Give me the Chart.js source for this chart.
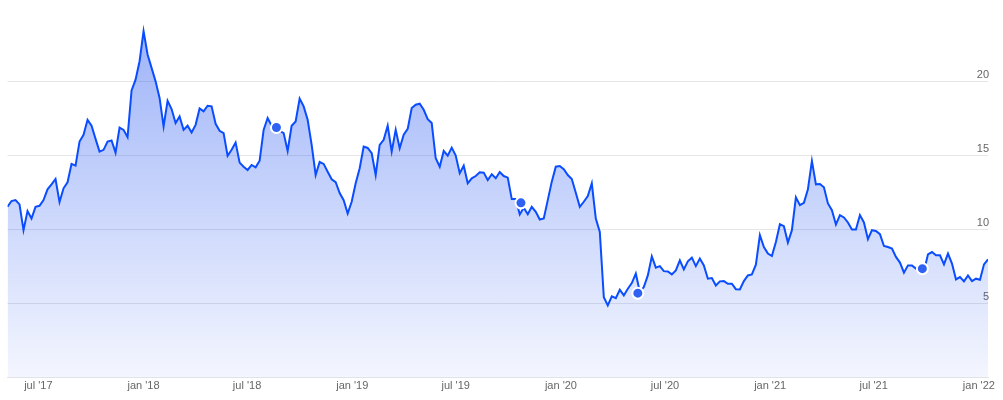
<!DOCTYPE html>
<html>
<head>
<meta charset="utf-8">
<title>Weekly chart</title>
<script src="https://cdn.jsdelivr.net/npm/chart.js@4.4.1/dist/chart.umd.min.js"></script>
<style>
  html, body { margin: 0; padding: 0; background: #ffffff; }
  #wrap { width: 1003px; height: 400px; }
</style>
</head>
<body>
<div id="wrap"><canvas id="priceChart" width="1003" height="400"></canvas></div>
<script>
// weekly series, first point in the week of 8 May 2017
const startDate = '2017-05-08';

const weeklyValues = [
  11.56, 11.95, 12.01, 11.72, 9.98, 11.27, 10.77, 11.56, 11.63, 12.01,
  12.74, 13.08, 13.44, 11.88, 12.81, 13.22, 14.46, 14.34, 15.97, 16.43,
  17.44, 17.04, 16.15, 15.29, 15.41, 15.97, 16.04, 15.22, 16.92, 16.76,
  16.27, 19.43, 20.16, 21.40, 23.44, 21.86, 20.95, 20.04, 18.92, 16.99,
  18.73, 18.17, 17.22, 17.67, 16.76, 17.04, 16.58, 17.10, 18.21, 18.01,
  18.39, 18.35, 17.17, 16.70, 16.54, 15.00, 15.41, 15.90, 14.55, 14.27,
  14.05, 14.39, 14.23, 14.68, 16.76, 17.56, 17.04, 16.90, 16.70, 16.54,
  15.34, 17.04, 17.33, 18.87, 18.35, 17.44, 15.75, 13.71, 14.59, 14.46,
  13.93, 13.42, 13.22, 12.49, 12.01, 11.11, 11.90, 13.15, 14.17, 15.63,
  15.54, 15.18, 13.71, 15.75, 16.09, 17.04, 15.29, 16.76, 15.52, 16.43,
  16.83, 18.24, 18.46, 18.53, 18.12, 17.49, 17.22, 14.84, 14.27, 15.34,
  15.02, 15.56, 15.02, 13.83, 14.34, 13.15, 13.49, 13.64, 13.89, 13.87,
  13.37, 13.76, 13.49, 13.91, 13.64, 13.53, 12.08, 12.08, 11.04, 11.50,
  11.06, 11.56, 11.22, 10.70, 10.77, 12.01, 13.26, 14.27, 14.32, 14.10,
  13.71, 13.44, 12.51, 11.56, 11.90, 12.29, 13.15, 10.77, 9.86, 5.45,
  4.89, 5.50, 5.38, 5.95, 5.57, 6.02, 6.40, 7.04, 5.80, 6.13,
  6.92, 8.21, 7.45, 7.55, 7.21, 7.19, 6.99, 7.26, 7.94, 7.33,
  7.87, 8.12, 7.55, 8.06, 7.60, 6.70, 6.74, 6.24, 6.52, 6.54,
  6.36, 6.36, 5.99, 5.97, 6.54, 6.92, 6.99, 7.65, 9.64, 8.84,
  8.40, 8.23, 9.18, 10.38, 10.25, 9.14, 9.98, 12.20, 11.67, 11.83,
  12.74, 14.66, 13.08, 13.10, 12.88, 11.79, 11.33, 10.36, 11.00, 10.84,
  10.50, 10.02, 10.02, 11.00, 10.50, 9.37, 9.98, 9.93, 9.71, 8.91,
  8.84, 8.74, 8.17, 7.79, 7.11, 7.60, 7.60, 7.38, 7.40, 7.20,
  8.35, 8.50, 8.28, 8.28, 7.67, 8.40, 7.72, 6.65, 6.81, 6.52,
  6.92, 6.54, 6.70, 6.63, 7.67, 8.01
];

// highlighted events (week index from start, value)
const eventWeeks = [67.2, 128.3, 157.5, 228.6];
const eventValues = [16.92, 11.83, 5.72, 7.38];

const tickDates = ['2017-07-01', '2018-01-01', '2018-07-01', '2019-01-01', '2019-07-01',
                   '2020-01-01', '2020-07-01', '2021-01-01', '2021-07-01', '2022-01-01'];
const tickLabels = ["jul '17", "jan '18", "jul '18", "jan '19", "jul '19",
                    "jan '20", "jul '20", "jan '21", "jul '21", "jan '22"];
const yTicks = [5, 10, 15, 20];

const WEEK_MS = 7 * 24 * 3600 * 1000;
function weekIndex(dateStr) {
    return (Date.parse(dateStr + 'T00:00:00Z') - Date.parse(startDate + 'T00:00:00Z')) / WEEK_MS;
}
const tickWeeks = tickDates.map(weekIndex);

Chart.defaults.font.family = 'Arial, "Liberation Sans", sans-serif';

const ctx = document.getElementById('priceChart').getContext('2d');

function areaGradient(context) {
    const area = context.chart.chartArea;
    if (!area) return 'rgba(30, 80, 240, 0.2)';
    const g = context.chart.ctx.createLinearGradient(0, area.top, 0, area.bottom);
    g.addColorStop(0, 'rgba(30, 80, 240, 0.45)');
    g.addColorStop(1, 'rgba(30, 80, 240, 0.05)');
    return g;
}

const priceChart = new Chart(ctx, {
    type: 'line',
    data: {
        datasets: [
            {
                label: 'events',
                data: eventWeeks.map((w, i) => ({ x: w, y: eventValues[i] })),
                showLine: false,
                pointRadius: 5.5,
                pointBackgroundColor: '#2f62f2',
                pointBorderColor: '#ffffff',
                pointBorderWidth: 2,
                order: 0
            },
            {
                label: 'value',
                data: weeklyValues.map((v, i) => ({ x: i, y: v })),
                borderColor: '#0a4dff',
                borderWidth: 2,
                backgroundColor: areaGradient,
                fill: 'origin',
                tension: 0,
                pointRadius: 0,
                order: 1
            }
        ]
    },
    options: {
        responsive: false,
        animation: false,
        devicePixelRatio: 1,
        layout: {
            padding: { left: 7, right: 13, top: 8, bottom: 5 }
        },
        plugins: {
            legend: { display: false },
            tooltip: { enabled: false }
        },
        scales: {
            x: {
                type: 'linear',
                min: 0,
                max: weeklyValues.length - 1,
                afterBuildTicks: axis => {
                    axis.ticks = tickWeeks.map(w => ({ value: w }));
                },
                grid: { display: false, drawTicks: false },
                border: { display: true, color: '#e6e6e6', width: 1 },
                ticks: {
                    autoSkip: false,
                    maxRotation: 0,
                    padding: 2,
                    color: '#666666',
                    font: { size: 11 },
                    callback: (value, index) => tickLabels[index]
                }
            },
            y: {
                position: 'right',
                min: 0,
                max: 25,
                afterBuildTicks: axis => {
                    axis.ticks = yTicks.map(v => ({ value: v }));
                },
                grid: { color: '#e6e6e6', drawTicks: false },
                border: { display: false },
                ticks: {
                    mirror: true,
                    padding: 1,
                    labelOffset: -7,
                    color: '#666666',
                    font: { size: 11 }
                }
            }
        }
    }
});
</script>
</body>
</html>
